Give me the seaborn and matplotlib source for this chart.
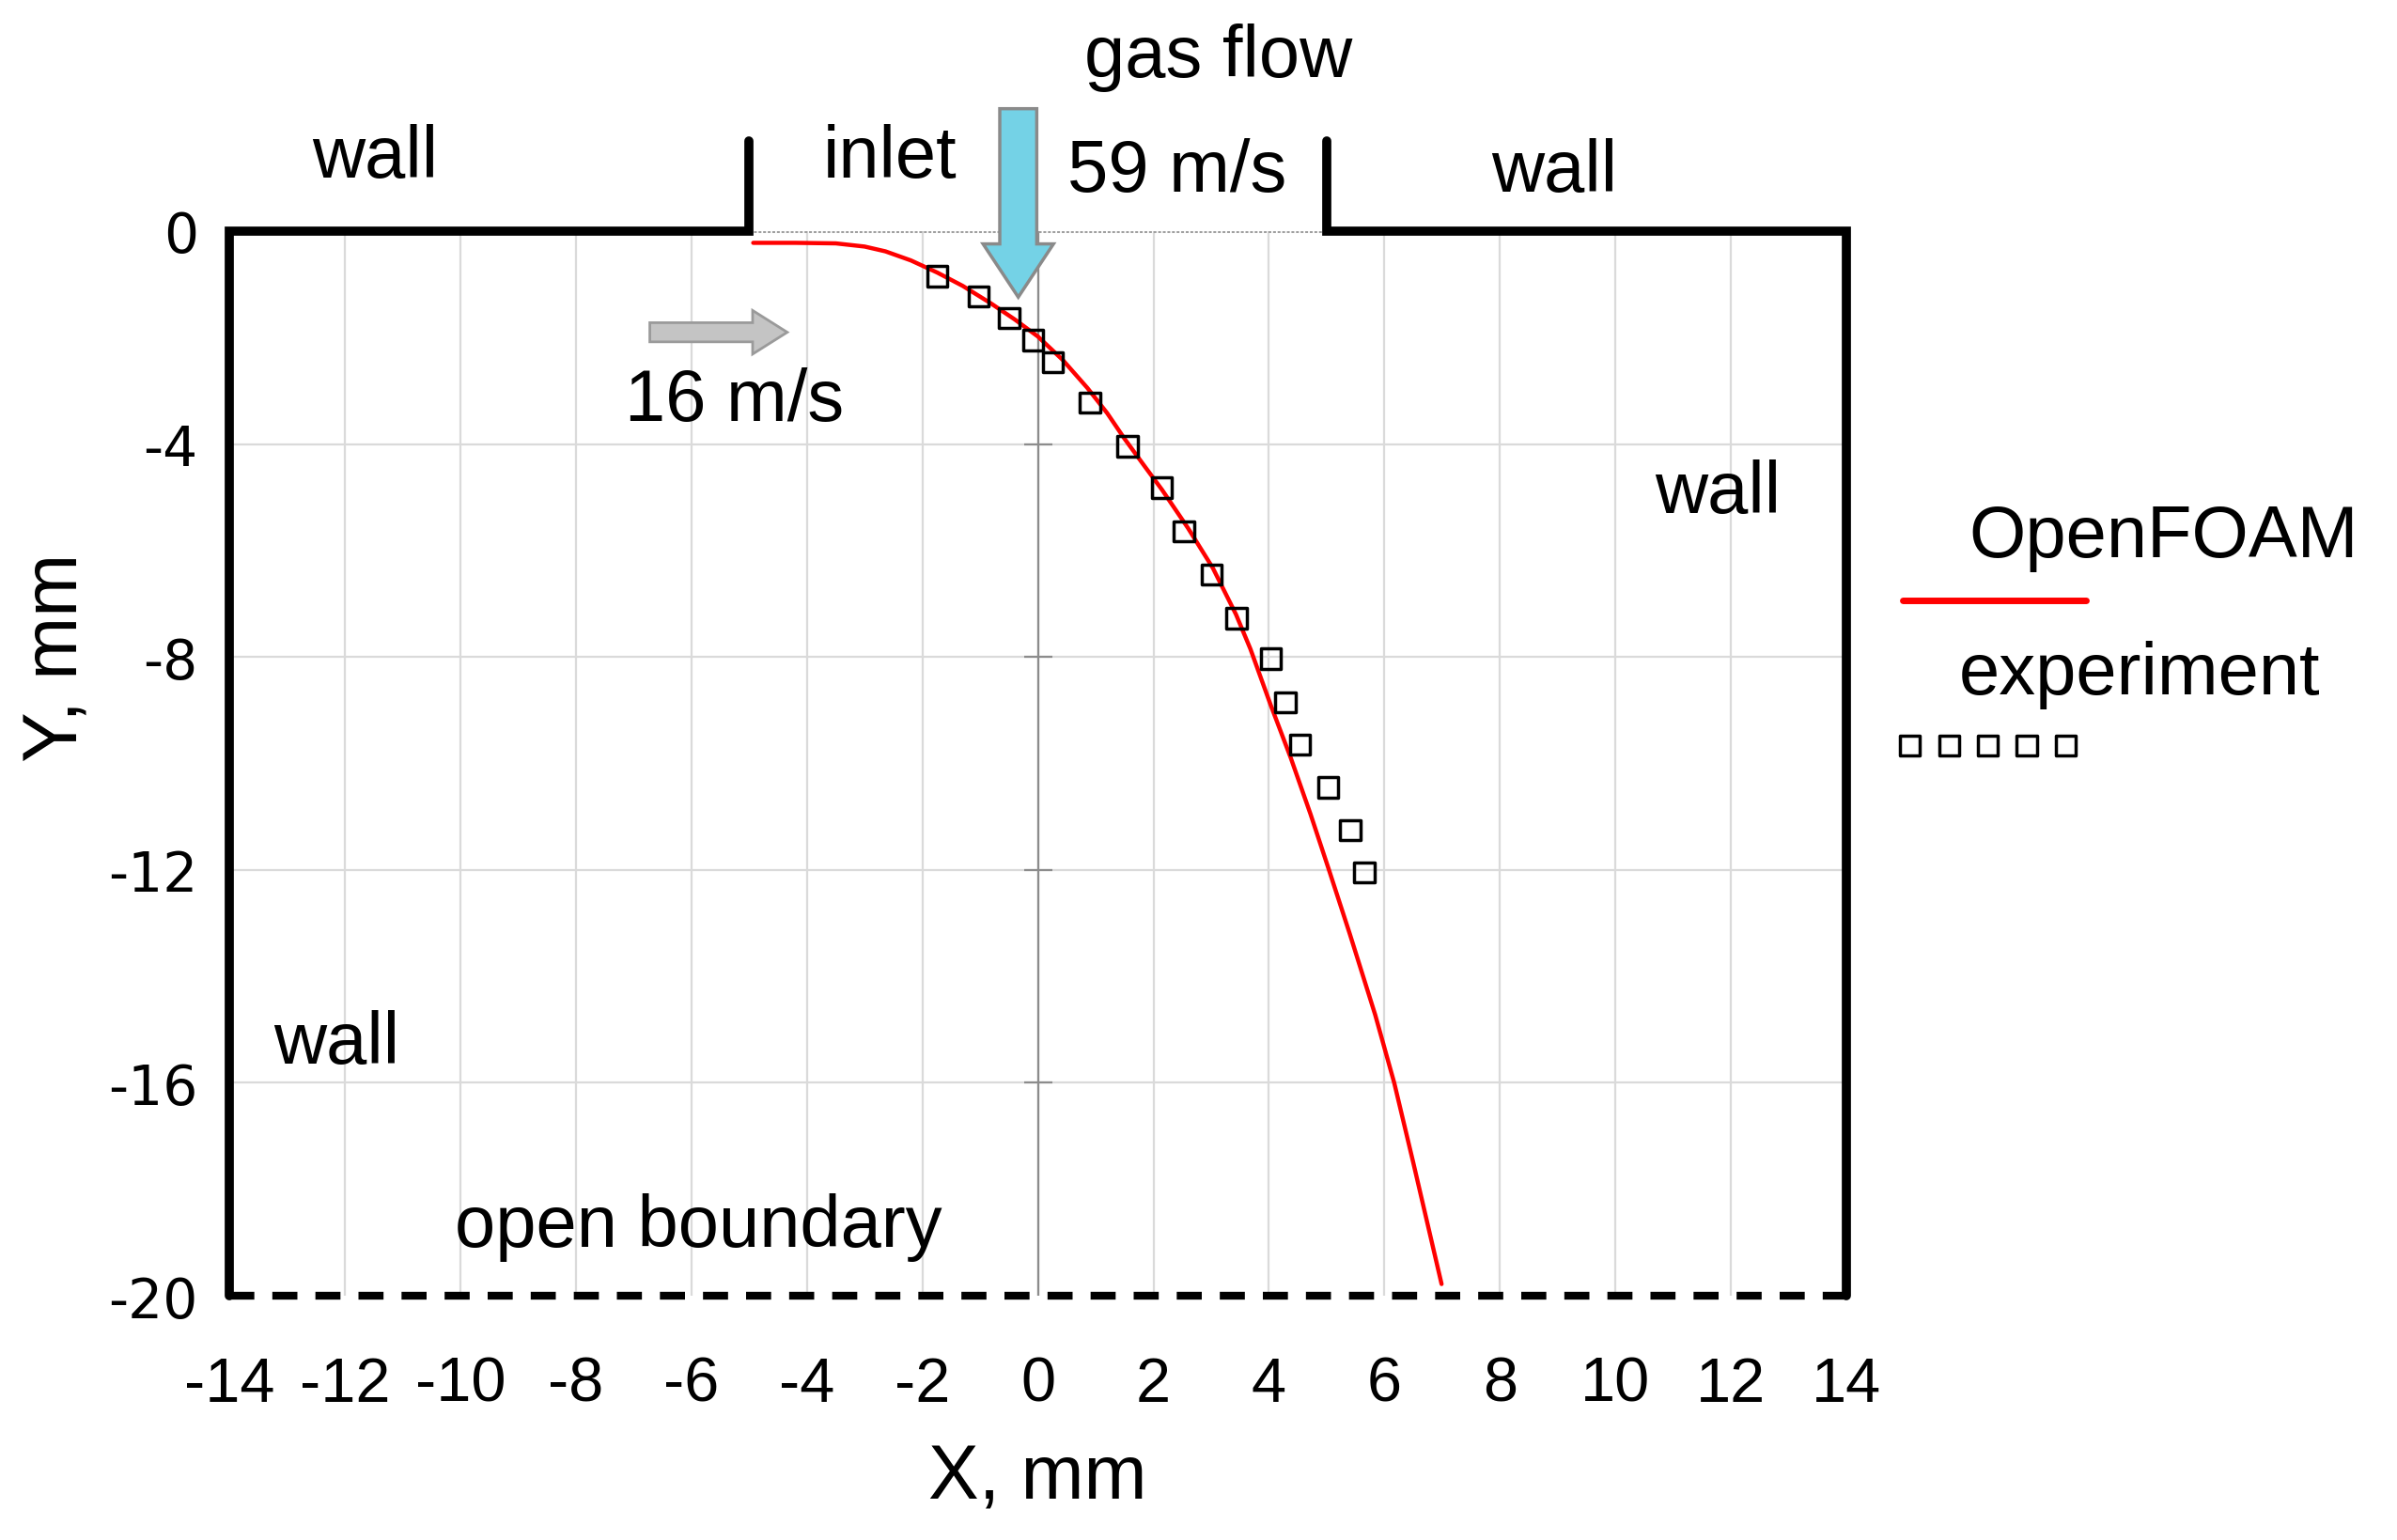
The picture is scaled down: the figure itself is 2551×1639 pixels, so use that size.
import numpy as np
import pandas as pd
import matplotlib
matplotlib.use("Agg")
import matplotlib.pyplot as plt
import seaborn as sns
from matplotlib.patches import FancyArrow

# OpenFOAM jet trajectory (mm)
openfoam_x = [-4.93, -4.2, -3.5, -3.0, -2.64, -2.2, -1.74, -1.3, -0.81, -0.4, 0.0,
              0.43, 0.86, 1.2, 1.5, 1.85, 2.15, 2.6, 3.03, 3.43, 3.68, 4.03, 4.38,
              4.72, 5.04, 5.4, 5.84, 6.17, 6.5, 6.99]
openfoam_y = [-0.22, -0.22, -0.23, -0.29, -0.38, -0.55, -0.78, -1.03, -1.36, -1.66, -1.98,
              -2.42, -2.95, -3.42, -3.9, -4.42, -4.86, -5.58, -6.33, -7.2, -7.85, -8.9, -9.9,
              -10.95, -12.0, -13.2, -14.72, -16.0, -17.5, -19.78]

# experimental trajectory (mm)
exp_x = [-1.74, -1.03, -0.5, -0.08, 0.26, 0.9, 1.55, 2.15, 2.53, 3.01, 3.44,
         4.03, 4.29, 4.54, 5.03, 5.41, 5.65]
exp_y = [-0.85, -1.23, -1.63, -2.05, -2.46, -3.22, -4.04, -4.82, -5.64, -6.45, -7.27,
         -8.03, -8.85, -9.65, -10.45, -11.25, -12.05]

x_ticks = list(range(-14, 15, 2))
y_ticks = [0, -4, -8, -12, -16, -20]

# channel geometry (mm)
left_wall_x = [-5, -5, -14, -14]
left_wall_y = [1.7, 0, 0, -20]
right_wall_x = [5, 5, 14, 14]
right_wall_y = [1.7, 0, 0, -20]

sns.set_theme(style="white")
plt.rcParams['font.family'] = ['Liberation Sans', 'DejaVu Sans']
plt.rcParams['text.color'] = 'black'

fig = plt.figure(figsize=(25.51, 16.40), dpi=100)
ax = fig.add_axes([0.0957, 0.1585, 0.6746, 0.6909])

df_sim = pd.DataFrame({"x": openfoam_x, "y": openfoam_y})
df_exp = pd.DataFrame({"x": exp_x, "y": exp_y})

# grid
for xv in x_ticks:
    ax.plot([xv, xv], [0, -20], color="#dadada", lw=1.6, zorder=1)
for yv in y_ticks[1:-1]:
    ax.plot([-14, 14], [yv, yv], color="#dadada", lw=1.6, zorder=1)
ax.plot([0, 0], [0.0, -20], color="#8c8c8c", lw=1.6, zorder=1.5)
ax.plot([0] * 4, y_ticks[1:-1], ls="none", marker="_", ms=22, mew=1.6,
        color="#8c8c8c", zorder=1.5)
ax.plot([-5, 5], [0, 0], color="#a0a0a0", lw=2.2, ls=(0, (1, 0.6)), zorder=1.5)

# walls and open boundary
ax.plot(left_wall_x, left_wall_y, color="black", lw=7, clip_on=False,
        solid_joinstyle="miter", zorder=5)
ax.plot(right_wall_x, right_wall_y, color="black", lw=7, clip_on=False,
        solid_joinstyle="miter", zorder=5)
ax.plot([-14, 14], [-20, -20], color="black", lw=6, ls=(0, (3.2, 2.3)),
        clip_on=False, zorder=5)

# data
sns.lineplot(data=df_sim, x="x", y="y", sort=False, estimator=None, color="red",
             lw=3.2, ax=ax, zorder=3)
sns.scatterplot(data=df_exp, x="x", y="y", marker="s", s=240, facecolor="none",
                edgecolor="black", linewidth=2.5, ax=ax, zorder=4)

# arrows
ax.add_patch(FancyArrow(-0.34, 2.3, 0, -3.54, width=0.64, head_width=1.22,
                        head_length=1.0, length_includes_head=True,
                        facecolor="#74d2e6", edgecolor="#8a8a8a", lw=2.5,
                        clip_on=False, zorder=6))
ax.add_patch(FancyArrow(-6.72, -1.9, 2.38, 0, width=0.36, head_width=0.82,
                        head_length=0.6, length_includes_head=True,
                        facecolor="#c4c4c4", edgecolor="#9a9a9a", lw=2,
                        clip_on=False, zorder=6))

# annotations
fs = 56
ax.text(3.12, 3.28, "gas flow", fontsize=fs, ha="center", va="center")
ax.text(-11.48, 1.38, "wall", fontsize=fs, ha="center", va="center")
ax.text(-2.57, 1.38, "inlet", fontsize=fs, ha="center", va="center")
ax.text(2.41, 1.12, "59 m/s", fontsize=fs, ha="center", va="center")
ax.text(8.94, 1.12, "wall", fontsize=fs, ha="center", va="center")
ax.text(-5.26, -3.19, "16 m/s", fontsize=fs, ha="center", va="center")
ax.text(11.77, -4.91, "wall", fontsize=fs, ha="center", va="center")
ax.text(-12.14, -15.26, "wall", fontsize=fs, ha="center", va="center")
ax.text(-5.87, -18.7, "open boundary", fontsize=fs, ha="center", va="center")

# legend drawn beside the box
ax.text(19.5, -5.75, "OpenFOAM", fontsize=fs, ha="center", va="center")
ax.plot([14.97, 18.15], [-6.93, -6.93], color="red", lw=5, clip_on=False,
        solid_capstyle="round")
ax.text(19.07, -8.33, "experiment", fontsize=fs, ha="center", va="center")
ax.scatter([15.1, 15.78, 16.45, 17.12, 17.8], [-9.66] * 5, marker="s", s=240,
           facecolor="none", edgecolor="black", linewidth=2.5, clip_on=False)

ax.set_xlim(-14, 14)
ax.set_ylim(-20, 0)
ax.set_xticks(x_ticks)
ax.set_yticks(y_ticks)
ax.set_xticklabels([str(v) for v in x_ticks], fontsize=48, color="black")
ax.set_yticklabels([str(v) for v in y_ticks], fontsize=42, color="black",
                   family="DejaVu Sans")
ax.tick_params(axis="x", length=0, pad=46)
ax.tick_params(axis="y", length=0, pad=24)
for sp in ax.spines.values():
    sp.set_visible(False)

ax.set_xlabel("X, mm", fontsize=58, color="black", va="center")
ax.set_ylabel("Y, mm", fontsize=58, color="black", va="center")
ax.xaxis.set_label_coords(0.5, -0.172)
ax.yaxis.set_label_coords(-0.106, 0.6)

fig.savefig("out.png", dpi=100)
